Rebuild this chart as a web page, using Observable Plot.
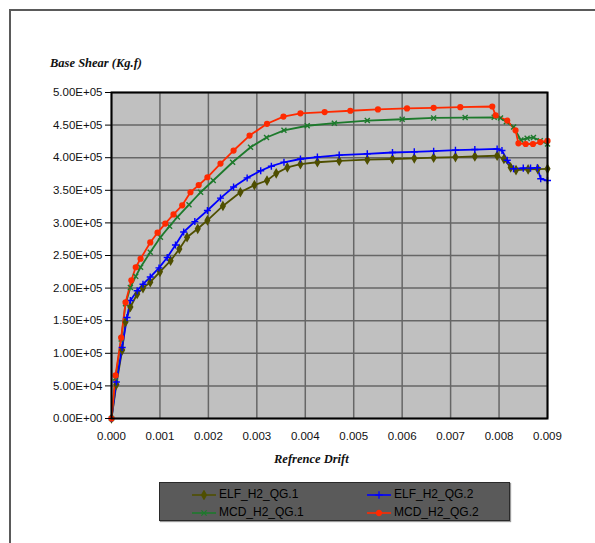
<!DOCTYPE html>
<html><head><meta charset="utf-8">
<script src="https://cdn.jsdelivr.net/npm/d3@7"></script>
<script src="https://cdn.jsdelivr.net/npm/@observablehq/plot@0.6"></script>
<style>
body{margin:0;background:#fff;}
#wrap{position:relative;width:595px;height:543px;overflow:hidden;background:#fff;}
#wrap > svg{position:absolute;left:0;top:0;}
.frame{position:absolute;left:9px;top:9px;width:700px;height:700px;border-left:2px solid #5a5a5a;border-top:2px solid #5a5a5a;pointer-events:none;}
.ttl{position:absolute;font-family:"Liberation Serif","Times New Roman",serif;font-weight:bold;font-style:italic;font-size:12.5px;color:#111;white-space:nowrap;line-height:1;}
#legend{position:absolute;left:159px;top:482px;width:349px;height:37px;background:#5a5a5a;border:1px solid #2a2a2a;box-shadow:1px 1px 1px #999;}
.li{position:absolute;font-family:"Liberation Sans",Arial,sans-serif;font-size:12px;color:#000;line-height:12px;white-space:nowrap;}
.li svg{display:inline-block;vertical-align:middle;margin-right:3px;}
</style></head>
<body>
<div id="wrap">
  <div class="frame"></div>
  <div class="ttl" style="left:50px;top:57px;">Base Shear (Kg.f)</div>
  <div class="ttl" style="left:274px;top:453px;">Refrence Drift</div>
  <div id="legend"></div>
</div>
<script>
// ---- data ----
const seriesNames = ["ELF_H2_QG.1", "ELF_H2_QG.2", "MCD_H2_QG.1", "MCD_H2_QG.2"];
const seriesColors = ["#4f4f00", "#0000ff", "#1d7a2c", "#ff2a00"];
const seriesSymbols = ["diamond", "plus", "times", "circle"];

const xTicks = [0, 0.001, 0.002, 0.003, 0.004, 0.005, 0.006, 0.007, 0.008, 0.009];
const xTickLabels = ["0.000", "0.001", "0.002", "0.003", "0.004", "0.005", "0.006", "0.007", "0.008", "0.009"];
const yTicks = [0, 50000, 100000, 150000, 200000, 250000, 300000, 350000, 400000, 450000, 500000];
const yTickLabels = ["0.00E+00", "5.00E+04", "1.00E+05", "1.50E+05", "2.00E+05", "2.50E+05", "3.00E+05", "3.50E+05", "4.00E+05", "4.50E+05", "5.00E+05"];

const elf1 = [[0,0],[0.0001,52000],[0.00022,105000],[0.00029,148000],[0.00039,171000],[0.00053,191000],[0.00065,200000],[0.0008,209000],[0.001,225000],[0.00122,242000],[0.0014,260000],[0.00156,278000],[0.00178,291000],[0.00198,304000],[0.0023,326000],[0.00266,347000],[0.00295,358000],[0.00321,365000],[0.0034,376000],[0.00363,385000],[0.0039,390000],[0.00425,393000],[0.0047,395000],[0.00528,397000],[0.0058,398000],[0.00625,399000],[0.00665,400000],[0.0071,401000],[0.0075,402000],[0.00796,403000],[0.0081,398000],[0.00824,385000],[0.00835,381000],[0.0086,382000],[0.0088,382500],[0.009,383000]];
const elf2 = [[0,0],[0.0001,56000],[0.00022,109000],[0.00032,155000],[0.00039,181000],[0.00053,196000],[0.00065,206000],[0.0008,217000],[0.00098,231000],[0.00115,247000],[0.00132,266000],[0.00149,286000],[0.00172,302000],[0.00198,319000],[0.00225,338000],[0.00252,355000],[0.0028,369000],[0.00308,380000],[0.0033,387000],[0.00356,393000],[0.0039,398000],[0.00425,401000],[0.0047,404000],[0.00528,406000],[0.0058,408000],[0.00625,409000],[0.00665,410000],[0.0071,411500],[0.0075,412500],[0.00796,413500],[0.00806,411000],[0.00817,396000],[0.0083,383000],[0.0085,384000],[0.00865,384000],[0.00879,384500],[0.00886,367600],[0.009,365000]];
const mcd1 = [[0,0],[0.000083,62000],[0.0002,122000],[0.00029,176000],[0.00039,201000],[0.0005,218000],[0.0006,232000],[0.0008,255000],[0.00101,278000],[0.0012,295000],[0.00136,309000],[0.0016,328000],[0.00184,347000],[0.0021,365000],[0.0025,393000],[0.00287,416000],[0.0032,431000],[0.00356,442000],[0.00404,449000],[0.0046,453000],[0.00528,457000],[0.006,459000],[0.00665,461000],[0.0073,461500],[0.0079,462000],[0.00803,461000],[0.00815,455000],[0.0083,447000],[0.00845,427000],[0.00858,430000],[0.00871,431000],[0.00885,426000],[0.009,421000]];
const mcd2 = [[0,0],[0.000083,66000],[0.0002,124000],[0.00029,178000],[0.00041,212000],[0.0005,232000],[0.0006,245000],[0.0008,270000],[0.00095,285000],[0.00111,299000],[0.00128,313000],[0.00146,327000],[0.00163,347000],[0.0018,358000],[0.00198,370000],[0.00225,391000],[0.00252,411000],[0.00285,434000],[0.00321,452000],[0.00355,463000],[0.0039,468000],[0.0044,470000],[0.00493,472000],[0.0055,474000],[0.0061,475500],[0.00665,476500],[0.0072,477500],[0.00786,478500],[0.00793,465000],[0.00817,457000],[0.00834,442000],[0.0084,422000],[0.00855,421000],[0.0087,421000],[0.00885,424000],[0.009,426000]];

const seriesData = [elf1, elf2, mcd1, mcd2];
const rows = seriesData.flatMap((pts, i) => pts.map(([drift, shear]) => ({series: seriesNames[i], drift, shear})));

const dotMarks = seriesNames.map((name, i) => {
  const filled = seriesSymbols[i] === "diamond" || seriesSymbols[i] === "circle";
  return Plot.dot(rows.filter(d => d.series === name), {
    x: "drift", y: "shear", symbol: () => seriesSymbols[i], r: 2.4,
    stroke: seriesColors[i], fill: filled ? seriesColors[i] : "none", strokeWidth: 1.4
  });
});

const chart = Plot.plot({
  width: 595, height: 543,
  marginLeft: 111, marginRight: 48, marginTop: 92, marginBottom: 125,
  style: {background: "transparent", fontFamily: "Liberation Sans, Arial, sans-serif"},
  x: {domain: [0, 0.009], label: null},
  y: {domain: [0, 500000], label: null},
  symbol: {domain: seriesSymbols, range: seriesSymbols},
  marks: [
    Plot.frame({fill: "#c0c0c0"}),
    Plot.gridX(xTicks, {stroke: "#666", strokeOpacity: 1, strokeWidth: 1.5}),
    Plot.gridY(yTicks, {stroke: "#666", strokeOpacity: 1, strokeWidth: 1.5}),
    ...seriesNames.map((name, i) => Plot.line(rows.filter(d => d.series === name), {
      x: "drift", y: "shear", stroke: seriesColors[i], strokeWidth: 1.8
    })),
    ...dotMarks,
    Plot.frame({stroke: "#000", strokeWidth: 2}),
    Plot.axisY(yTicks, {tickSize: 6, tickPadding: 3, fontSize: 11.5, stroke: "#000",
      tickFormat: (d) => yTickLabels[yTicks.indexOf(d)], fill: "#111"}),
    Plot.axisX(xTicks, {tickSize: 0, tickPadding: 13, fontSize: 11.5,
      tickFormat: (d) => xTickLabels[xTicks.indexOf(d)], fill: "#111"})
  ]
});
document.getElementById("wrap").prepend(chart);

// legend
const legend = document.getElementById("legend");
const pos = [[32, 11], [207, 11], [32, 29], [207, 29]];
seriesNames.forEach((name, i) => {
  const el = document.createElement("div");
  el.className = "li";
  el.style.left = pos[i][0] + "px";
  el.style.top = (pos[i][1] - 6) + "px";
  const sym = d3.symbol(d3["symbol" + seriesSymbols[i][0].toUpperCase() + seriesSymbols[i].slice(1)] || d3.symbolCircle, 20)();
  const filled = seriesSymbols[i] === "diamond" || seriesSymbols[i] === "circle";
  el.innerHTML = `<svg width="24" height="10"><line x1="0" x2="24" y1="5" y2="5" stroke="${seriesColors[i]}" stroke-width="1.6"/><path d="${sym}" transform="translate(12,5)" stroke="${seriesColors[i]}" fill="${filled ? seriesColors[i] : "none"}" stroke-width="1.3"/></svg>${name}`;
  legend.appendChild(el);
});
</script>
</body></html>
